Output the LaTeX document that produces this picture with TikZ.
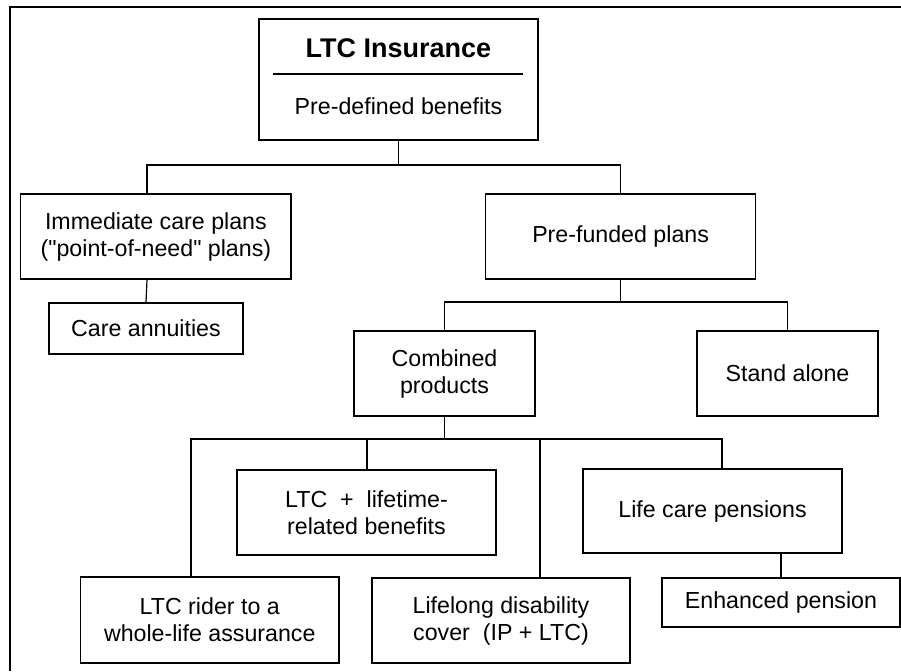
\documentclass[tikz,border=0pt]{standalone}
\usepackage{fontspec}
\setmainfont{Liberation Sans}
\newfontfamily\plainqfont{Liberation Sans}
\newcommand\dq{{\plainqfont"}}
\begin{document}
\begin{tikzpicture}[x=0.5pt,y=-0.5pt,
    box/.style={draw,line width=0.7pt,align=center,inner sep=0pt,
      font=\fontsize{11.6}{13.5}\selectfont},
    link/.style={line width=0.6pt}]
  \useasboundingbox (0,0) rectangle (901,671);
  \draw [link]
    (901,7)
    -| (10,671)
  ;

  % top box
  \node [box,minimum width=139.5pt,minimum height=60.5pt] (ltc) at (398.5,79.5) {};
  \node [font=\fontsize{13.5}{16}\selectfont\bfseries] (ltctitle) at (398.5,48) {LTC Insurance};
  \node [font=\fontsize{11.6}{13.5}\selectfont] (ltcsub) at (398.5,106) {Pre-defined benefits};
  \draw [link]
    (273,74)
    -- (523,74)
  ;

  \node [box,minimum width=135.2pt,minimum height=42.5pt] (imm) at (155.9,236.5)
    {Immediate care plans\\(\dq point-of-need\dq{} plans)};
  \node [box,minimum width=135pt,minimum height=42.5pt] (pref) at (620.6,236.5)
    {Pre-funded plans};
  \node [box,minimum width=97pt,minimum height=25.5pt] (care) at (146,328.5)
    {Care annuities};
  \node [box,minimum width=90.5pt,minimum height=42.5pt] (comb) at (444.5,373.5)
    {Combined\\products};
  \node [box,minimum width=90.5pt,minimum height=42.5pt] (alone) at (787.5,373.5)
    {Stand alone};
  \node [box,minimum width=129.5pt,minimum height=42.5pt] (ltcplus) at (366.5,512.5)
    {LTC\ \ +\ \ lifetime-\\related benefits};
  \node [box,minimum width=129.5pt,minimum height=42pt] (lifec) at (712.5,511)
    {Life care pensions};
  \node [box,minimum width=119pt,minimum height=24.5pt] (enh) at (781,602.5)
    {Enhanced pension};
  \node [box,minimum width=129.25pt,minimum height=43pt] (rider) at (209.75,620)
    {LTC rider to a\\whole-life assurance};
  \node [box,minimum width=129pt,minimum height=42.5pt] (lifelong) at (501,620.5)
    {Lifelong disability\\cover\ \ (IP + LTC)};

  % connectors
  \coordinate (a1) at (147,165);
  \coordinate (a2) at (620.6,165);
  \draw [link]
    (ltc.south)
    -- (ltc.south |- a1)
  ;
  \draw [link]
    (a1 |- imm.north)
    -- (a1)
    -- (a2)
    -- (pref.north)
  ;
  \draw [link]
    (a1 |- imm.south)
    -- (care.north)
  ;

  \coordinate (b1) at (444.5,302);
  \coordinate (b2) at (787.5,302);
  \draw [link]
    (pref.south)
    -- (pref.south |- b1)
  ;
  \draw [link]
    (comb.north)
    -- (b1)
    -- (b2)
    -- (alone.north)
  ;

  \coordinate (d1) at (191,439);
  \coordinate (d2) at (367,439);
  \coordinate (d3) at (540,439);
  \coordinate (d4) at (722,439);
  \draw [link]
    (comb.south)
    -- (comb.south |- d1)
  ;
  \draw [link]
    (d1 |- rider.north)
    -- (d1)
    -- (d4)
    -- (d4 |- lifec.north)
  ;
  \draw [link]
    (d2)
    -- (d2 |- ltcplus.north)
  ;
  \draw [link]
    (d3)
    -- (d3 |- lifelong.north)
  ;
  \draw [link]
    (lifec.south -| enh.north)
    -- (enh.north)
  ;
\end{tikzpicture}
\end{document}
